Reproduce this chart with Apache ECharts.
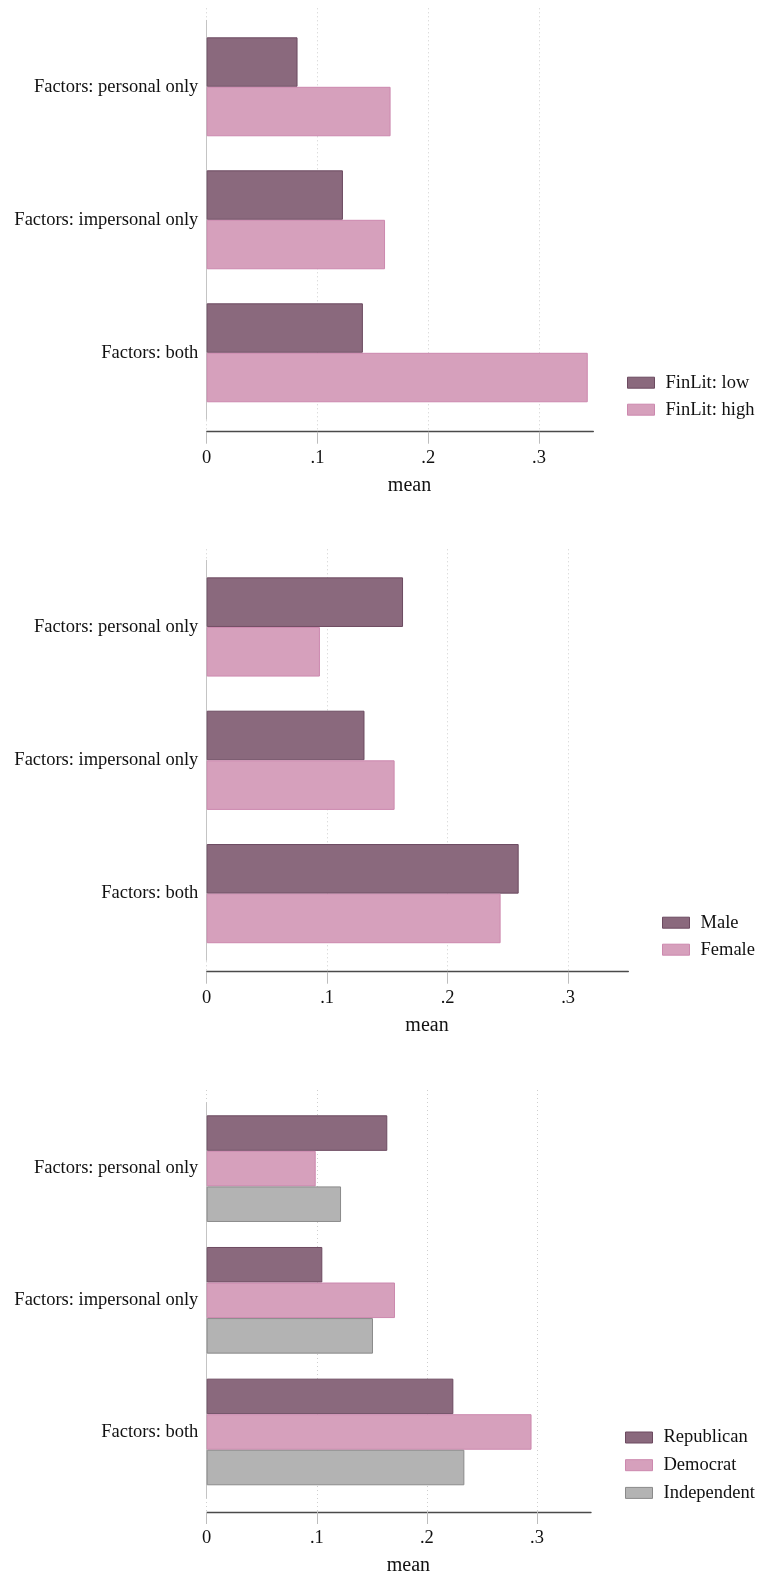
<!DOCTYPE html>
<html>
<head>
<meta charset="utf-8">
<script src="https://cdn.jsdelivr.net/npm/echarts@6/dist/echarts.min.js"></script>
<style>
html,body{margin:0;padding:0;background:#fff;}
#chart{width:758px;height:1577px;}
</style>
</head>
<body>
<div id="chart"></div>
<script>
// ---- data ----
const categories = ['Factors: personal only', 'Factors: impersonal only', 'Factors: both'];
const tickValues = [0, 0.1, 0.2, 0.3];
const tickLabels = ['0', '.1', '.2', '.3'];
const axisTitle = 'mean';

const finlitNames = ['FinLit: low', 'FinLit: high'];
const finlitLow  = [0.082, 0.123, 0.141];
const finlitHigh = [0.166, 0.161, 0.344];

const genderNames = ['Male', 'Female'];
const male   = [0.163, 0.131, 0.259];
const female = [0.094, 0.156, 0.244];

const partyNames = ['Republican', 'Democrat', 'Independent'];
const republican  = [0.164, 0.105, 0.224];
const democrat    = [0.099, 0.171, 0.295];
const independent = [0.122, 0.151, 0.234];

// ---- styles ----
const FONT = '"Liberation Serif", "Times New Roman", serif';
const STY = [
  {color: '#8a697d', borderColor: '#6c4a60'},
  {color: '#d6a0bc', borderColor: '#cc88ae'},
  {color: '#b3b3b3', borderColor: '#8a8a8a'}
];

const panels = [
  {names: finlitNames, data: [finlitLow, finlitHigh], max: 0.349, right: 593.3,
   gridTop: 8.3, bandTop: 20.3, bandBottom: 419.3, axisY: 431.7, gap: '25.6%',
   legendLeft: 627, legendTop: 373.2, legendGap: 8},
  {names: genderNames, data: [male, female], max: 0.35, right: 628.3,
   gridTop: 549.3, bandTop: 560.3, bandBottom: 960.3, axisY: 971.7, gap: '25.6%',
   legendLeft: 662, legendTop: 913.2, legendGap: 8},
  {names: partyNames, data: [republican, democrat, independent], max: 0.349, right: 591,
   gridTop: 1090, bandTop: 1102.8, bandBottom: 1498.5, axisY: 1512.7, gap: '19%',
   legendLeft: 625, legendTop: 1428, legendGap: 8.7}
];

const LEFT = 206.7;
const grid = [], xAxis = [], yAxis = [], series = [], legend = [];

function fmt(v) {
  const i = Math.round(v * 10);
  return tickLabels[i] !== undefined ? tickLabels[i] : '';
}

panels.forEach((p, k) => {
  const w = p.right - LEFT;
  const gMax = tickValues[tickValues.length - 1];
  // main grid (bars)
  grid.push({left: LEFT, width: w, top: p.bandTop, height: p.bandBottom - p.bandTop});
  // gridline grid (spans up to the last tick value)
  grid.push({left: LEFT, width: w * gMax / p.max, top: p.gridTop, height: p.axisY - p.gridTop});

  xAxis.push({
    type: 'value', gridIndex: 2 * k, min: 0, max: p.max,
    offset: p.axisY - p.bandBottom,
    axisLine: {show: true, lineStyle: {color: '#4a4a4a', width: 1.4}},
    axisTick: {show: true, length: 12, customValues: tickValues, lineStyle: {color: '#bdbdbd', width: 1}},
    axisLabel: {show: true, margin: 17, customValues: tickValues, color: '#111', fontFamily: FONT, fontSize: 18.5, formatter: fmt},
    splitLine: {show: false},
    name: axisTitle, nameLocation: 'middle', nameGap: 44,
    nameTextStyle: {color: '#111', fontFamily: FONT, fontSize: 20, padding: [0, 0, 0, 19]}
  });
  xAxis.push({
    type: 'value', gridIndex: 2 * k + 1, min: 0, max: gMax, interval: 0.1,
    axisLine: {show: false}, axisTick: {show: false}, axisLabel: {show: false},
    splitLine: {show: true, lineStyle: {color: '#cfcfcf', type: [1, 3], width: 1}}
  });
  yAxis.push({
    type: 'category', gridIndex: 2 * k, data: categories, inverse: true,
    axisLine: {show: true, lineStyle: {color: '#c4c4c4', width: 1}},
    axisTick: {show: false},
    axisLabel: {margin: 8.4, color: '#111', fontFamily: FONT, fontSize: 18.5}
  });
  yAxis.push({
    type: 'value', gridIndex: 2 * k + 1, min: 0, max: 1, show: false
  });

  p.names.forEach((n, j) => {
    series.push({
      type: 'bar', name: n, xAxisIndex: 2 * k, yAxisIndex: 2 * k,
      data: p.data[j], barGap: '0%', barCategoryGap: p.gap,
      itemStyle: {color: STY[j].color, borderColor: STY[j].borderColor, borderWidth: 1},
      emphasis: {disabled: true}, animation: false
    });
  });

  legend.push({
    data: p.names, orient: 'vertical', left: p.legendLeft, top: p.legendTop,
    icon: 'rect',
    itemWidth: 27, itemHeight: 11, itemGap: p.legendGap, padding: 0,
    selectedMode: false,
    itemStyle: {borderWidth: 1},
    textStyle: {color: '#111', fontFamily: FONT, fontSize: 18.5, lineHeight: 18, padding: [0, 0, 0, 6]}
  });
});

const chart = echarts.init(document.getElementById('chart'), null, {renderer: 'canvas'});
chart.setOption({
  animation: false,
  backgroundColor: '#fff',
  grid, xAxis, yAxis, series, legend
});
</script>
</body>
</html>
